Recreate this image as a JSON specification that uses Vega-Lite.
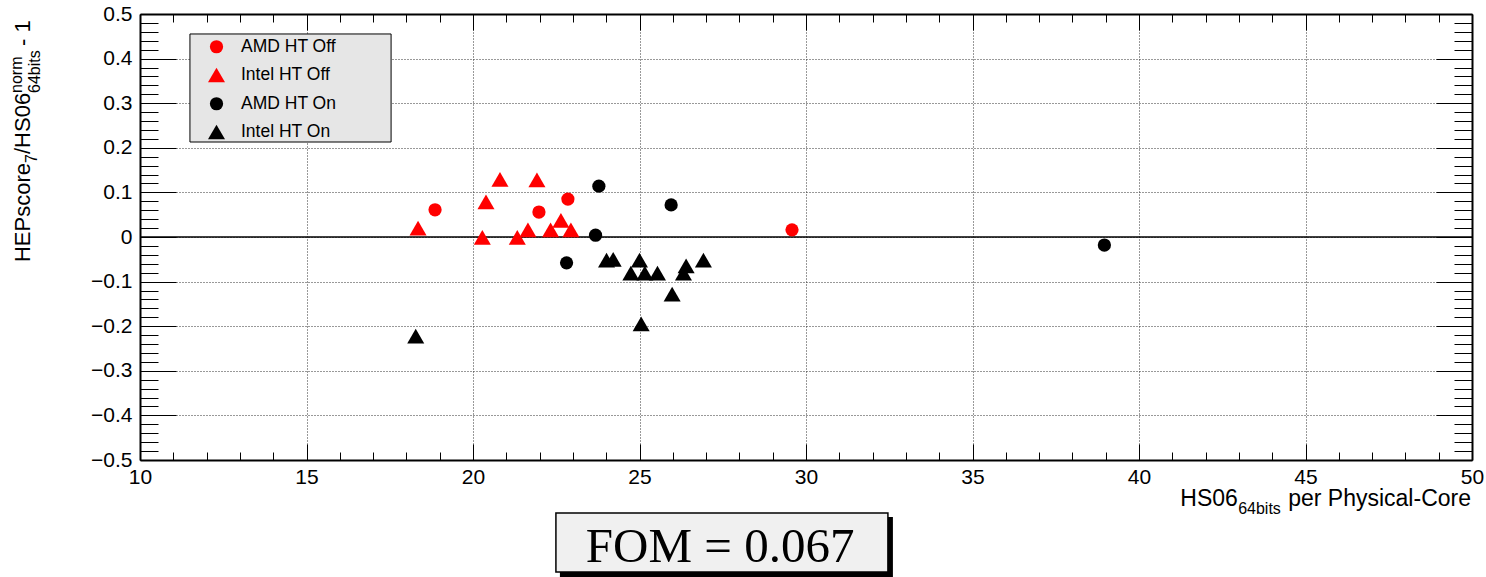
{
  "$schema": "https://vega.github.io/schema/vega-lite/v6.json",
  "width": 1332,
  "height": 446,
  "autosize": {"type": "none"},
  "padding": {"left": 140, "top": 14, "right": 14, "bottom": 117},
  "background": "white",
  "config": {"view": {"stroke": null}},
  "datasets": {
    "pts": [
      {"x": 18.86, "y": 0.061, "g": "AMD HT Off"},
      {"x": 21.98, "y": 0.056, "g": "AMD HT Off"},
      {"x": 22.85, "y": 0.085, "g": "AMD HT Off"},
      {"x": 29.58, "y": 0.016, "g": "AMD HT Off"},
      {"x": 18.35, "y": 0.020, "g": "Intel HT Off"},
      {"x": 20.39, "y": 0.079, "g": "Intel HT Off"},
      {"x": 20.81, "y": 0.129, "g": "Intel HT Off"},
      {"x": 21.92, "y": 0.128, "g": "Intel HT Off"},
      {"x": 20.28, "y": -0.001, "g": "Intel HT Off"},
      {"x": 21.33, "y": -0.001, "g": "Intel HT Off"},
      {"x": 21.65, "y": 0.016, "g": "Intel HT Off"},
      {"x": 22.33, "y": 0.016, "g": "Intel HT Off"},
      {"x": 22.64, "y": 0.037, "g": "Intel HT Off"},
      {"x": 22.94, "y": 0.016, "g": "Intel HT Off"},
      {"x": 23.78, "y": 0.114, "g": "AMD HT On"},
      {"x": 23.68, "y": 0.004, "g": "AMD HT On"},
      {"x": 22.81, "y": -0.058, "g": "AMD HT On"},
      {"x": 25.95, "y": 0.072, "g": "AMD HT On"},
      {"x": 38.96, "y": -0.018, "g": "AMD HT On"},
      {"x": 24.01, "y": -0.052, "g": "Intel HT On"},
      {"x": 24.21, "y": -0.050, "g": "Intel HT On"},
      {"x": 25.00, "y": -0.052, "g": "Intel HT On"},
      {"x": 24.74, "y": -0.081, "g": "Intel HT On"},
      {"x": 25.16, "y": -0.081, "g": "Intel HT On"},
      {"x": 25.54, "y": -0.081, "g": "Intel HT On"},
      {"x": 26.40, "y": -0.065, "g": "Intel HT On"},
      {"x": 26.32, "y": -0.081, "g": "Intel HT On"},
      {"x": 26.92, "y": -0.052, "g": "Intel HT On"},
      {"x": 25.98, "y": -0.128, "g": "Intel HT On"},
      {"x": 25.05, "y": -0.195, "g": "Intel HT On"},
      {"x": 18.28, "y": -0.222, "g": "Intel HT On"}
    ]
  },
  "layer": [
    {
      "data": {"values": [{}]},
      "mark": {"type": "rule", "color": "black", "strokeWidth": 1.5},
      "encoding": {
        "y": {"datum": 0, "type": "quantitative", "scale": {"domain": [-0.5, 0.5], "nice": false, "zero": false}, "axis": null}
      }
    },
    {
      "data": {"name": "pts"},
      "mark": {"type": "point", "filled": true, "opacity": 1, "strokeWidth": 0},
      "encoding": {
        "x": {
          "field": "x", "type": "quantitative",
          "scale": {"domain": [10, 50], "nice": false, "zero": false},
          "axis": {
            "orient": "bottom", "title": null,
            "values": [10,11,12,13,14,15,16,17,18,19,20,21,22,23,24,25,26,27,28,29,30,31,32,33,34,35,36,37,38,39,40,41,42,43,44,45,46,47,48,49,50],
            "labelExpr": "datum.value % 5 === 0 ? datum.label : ''",
            "labelFlush": false, "labelOverlap": false,
            "labelFont": "Liberation Sans", "labelFontSize": 21, "labelColor": "black",
            "labelPadding": 22,
            "tickSize": {"condition": {"test": "datum.value % 5 === 0", "value": -16}, "value": -8},
            "tickColor": "black", "tickWidth": 1,
            "grid": true, "gridColor": "#333", "gridDash": [1, 2], "gridWidth": 1,
            "gridOpacity": {"condition": {"test": "datum.value % 5 === 0 && datum.value > 10 && datum.value < 50", "value": 1}, "value": 0},
            "domain": true, "domainColor": "black", "domainWidth": 2
          }
        },
        "y": {
          "field": "y", "type": "quantitative",
          "scale": {"domain": [-0.5, 0.5], "nice": false, "zero": false},
          "axis": {
            "orient": "left", "title": null,
            "values": [-0.5,-0.48,-0.46,-0.44,-0.42,-0.4,-0.38,-0.36,-0.34,-0.32,-0.3,-0.28,-0.26,-0.24,-0.22,-0.2,-0.18,-0.16,-0.14,-0.12,-0.1,-0.08,-0.06,-0.04,-0.02,0,0.02,0.04,0.06,0.08,0.1,0.12,0.14,0.16,0.18,0.2,0.22,0.24,0.26,0.28,0.3,0.32,0.34,0.36,0.38,0.4,0.42,0.44,0.46,0.48,0.5],
            "labelExpr": "abs(datum.value*10 - round(datum.value*10)) < 0.001 ? format(datum.value, '.1~f') : ''",
            "labelFlush": false, "labelOverlap": false,
            "labelFont": "Liberation Sans", "labelFontSize": 21, "labelColor": "black",
            "labelPadding": 44,
            "tickSize": {"condition": {"test": "abs(datum.value*10 - round(datum.value*10)) < 0.001", "value": -36}, "value": -18},
            "tickColor": "black", "tickWidth": 1,
            "grid": true, "gridColor": "#333", "gridDash": [1, 2], "gridWidth": 1,
            "gridOpacity": {"condition": {"test": "abs(datum.value*10 - round(datum.value*10)) < 0.001 && abs(datum.value) < 0.49", "value": 1}, "value": 0},
            "domain": true, "domainColor": "black", "domainWidth": 2
          }
        },
        "color": {
          "field": "g", "type": "nominal", "title": null,
          "scale": {"domain": ["AMD HT Off", "Intel HT Off", "AMD HT On", "Intel HT On"], "range": ["#ff0000", "#ff0000", "#000000", "#000000"]},
          "legend": {
            "orient": "none", "legendX": 50, "legendY": 20, "padding": 4, "rowPadding": 10,
            "labelFont": "Liberation Sans", "labelFontSize": 17.5, "labelColor": "black",
            "symbolOffset": 13.5, "labelOffset": 15.5, "symbolStrokeWidth": 0, "symbolOpacity": 1
          }
        },
        "shape": {
          "field": "g", "type": "nominal", "title": null,
          "scale": {"domain": ["AMD HT Off", "Intel HT Off", "AMD HT On", "Intel HT On"], "range": ["circle", "triangle-up", "circle", "triangle-up"]}
        },
        "size": {
          "field": "g", "type": "nominal", "title": null,
          "scale": {"type": "ordinal", "domain": ["AMD HT Off", "Intel HT Off", "AMD HT On", "Intel HT On"], "range": [175, 290, 175, 290]}
        }
      }
    },
    {
      "data": {"values": [{}]},
      "mark": {"type": "rect", "fill": "#e6e6e6", "stroke": "black", "strokeWidth": 1},
      "encoding": {
        "x": {"datum": 11.50, "type": "quantitative", "scale": {"domain": [10, 50], "nice": false, "zero": false}, "axis": null},
        "x2": {"datum": 17.54},
        "y": {"datum": 0.4552, "type": "quantitative", "scale": {"domain": [-0.5, 0.5], "nice": false, "zero": false}, "axis": null},
        "y2": {"datum": 0.2130}
      }
    },
    {
      "data": {"values": [{}]},
      "mark": {"type": "rect", "fill": "black"},
      "encoding": {
        "x": {
          "datum": 22.61, "type": "quantitative",
          "scale": {"domain": [10, 50], "nice": false, "zero": false},
          "axis": {
            "orient": "top", "title": null, "labels": false, "grid": false,
            "values": [10,11,12,13,14,15,16,17,18,19,20,21,22,23,24,25,26,27,28,29,30,31,32,33,34,35,36,37,38,39,40,41,42,43,44,45,46,47,48,49,50],
            "tickSize": {"condition": {"test": "datum.value % 5 === 0", "value": -16}, "value": -8},
            "tickColor": "black", "tickWidth": 1,
            "domain": true, "domainColor": "black", "domainWidth": 2
          }
        },
        "x2": {"datum": 32.61},
        "y": {
          "datum": -0.6278, "type": "quantitative",
          "scale": {"domain": [-0.5, 0.5], "nice": false, "zero": false},
          "axis": {
            "orient": "right", "title": null, "labels": false, "grid": false,
            "values": [-0.5,-0.48,-0.46,-0.44,-0.42,-0.4,-0.38,-0.36,-0.34,-0.32,-0.3,-0.28,-0.26,-0.24,-0.22,-0.2,-0.18,-0.16,-0.14,-0.12,-0.1,-0.08,-0.06,-0.04,-0.02,0,0.02,0.04,0.06,0.08,0.1,0.12,0.14,0.16,0.18,0.2,0.22,0.24,0.26,0.28,0.3,0.32,0.34,0.36,0.38,0.4,0.42,0.44,0.46,0.48,0.5],
            "tickSize": {"condition": {"test": "abs(datum.value*10 - round(datum.value*10)) < 0.001", "value": -36}, "value": -18},
            "tickColor": "black", "tickWidth": 1,
            "domain": true, "domainColor": "black", "domainWidth": 2
          }
        },
        "y2": {"datum": -0.7623}
      }
    },
    {
      "data": {"values": [{}]},
      "mark": {"type": "rect", "fill": "#f0f0f0", "stroke": "black", "strokeWidth": 1.5},
      "encoding": {
        "x": {"datum": 22.49, "type": "quantitative", "scale": {"domain": [10, 50], "nice": false, "zero": false}, "axis": null},
        "x2": {"datum": 32.46},
        "y": {"datum": -0.6188, "type": "quantitative", "scale": {"domain": [-0.5, 0.5], "nice": false, "zero": false}, "axis": null},
        "y2": {"datum": -0.7511}
      }
    },
    {
      "data": {"values": [{}]},
      "mark": {"type": "text", "text": "FOM = 0.067", "font": "Liberation Serif", "fontSize": 49, "align": "center", "baseline": "alphabetic", "color": "black"},
      "encoding": {
        "x": {"datum": 27.42, "type": "quantitative", "scale": {"domain": [10, 50], "nice": false, "zero": false}, "axis": null},
        "y": {"datum": -0.7287, "type": "quantitative", "scale": {"domain": [-0.5, 0.5], "nice": false, "zero": false}, "axis": null}
      }
    },
    {
      "data": {"values": [{}]},
      "mark": {"type": "text", "text": "HS06", "font": "Liberation Sans", "fontSize": 23, "align": "right", "baseline": "alphabetic", "color": "black"},
      "encoding": {
        "x": {"datum": 42.97, "type": "quantitative", "scale": {"domain": [10, 50], "nice": false, "zero": false}, "axis": null},
        "y": {"datum": -0.6031, "type": "quantitative", "scale": {"domain": [-0.5, 0.5], "nice": false, "zero": false}, "axis": null}
      }
    },
    {
      "data": {"values": [{}]},
      "mark": {"type": "text", "text": "64bits", "font": "Liberation Sans", "fontSize": 16, "align": "right", "baseline": "alphabetic", "color": "black"},
      "encoding": {
        "x": {"datum": 44.26, "type": "quantitative", "scale": {"domain": [10, 50], "nice": false, "zero": false}, "axis": null},
        "y": {"datum": -0.6210, "type": "quantitative", "scale": {"domain": [-0.5, 0.5], "nice": false, "zero": false}, "axis": null}
      }
    },
    {
      "data": {"values": [{}]},
      "mark": {"type": "text", "text": "per Physical-Core", "font": "Liberation Sans", "fontSize": 23, "align": "right", "baseline": "alphabetic", "color": "black"},
      "encoding": {
        "x": {"datum": 49.97, "type": "quantitative", "scale": {"domain": [10, 50], "nice": false, "zero": false}, "axis": null},
        "y": {"datum": -0.6031, "type": "quantitative", "scale": {"domain": [-0.5, 0.5], "nice": false, "zero": false}, "axis": null}
      }
    },
    {
      "data": {"values": [{}]},
      "mark": {"type": "text", "text": "HEPscore", "font": "Liberation Sans", "fontSize": 22, "angle": 270, "align": "left", "baseline": "alphabetic", "color": "black"},
      "encoding": {
        "x": {"datum": 6.697, "type": "quantitative", "scale": {"domain": [10, 50], "nice": false, "zero": false}, "axis": null},
        "y": {"datum": -0.0561, "type": "quantitative", "scale": {"domain": [-0.5, 0.5], "nice": false, "zero": false}, "axis": null}
      }
    },
    {
      "data": {"values": [{}]},
      "mark": {"type": "text", "text": "7", "font": "Liberation Sans", "fontSize": 16, "angle": 270, "align": "left", "baseline": "alphabetic", "color": "black"},
      "encoding": {
        "x": {"datum": 6.907, "type": "quantitative", "scale": {"domain": [10, 50], "nice": false, "zero": false}, "axis": null},
        "y": {"datum": 0.1659, "type": "quantitative", "scale": {"domain": [-0.5, 0.5], "nice": false, "zero": false}, "axis": null}
      }
    },
    {
      "data": {"values": [{}]},
      "mark": {"type": "text", "text": "/HS06", "font": "Liberation Sans", "fontSize": 22, "angle": 270, "align": "left", "baseline": "alphabetic", "color": "black"},
      "encoding": {
        "x": {"datum": 6.697, "type": "quantitative", "scale": {"domain": [10, 50], "nice": false, "zero": false}, "axis": null},
        "y": {"datum": 0.1861, "type": "quantitative", "scale": {"domain": [-0.5, 0.5], "nice": false, "zero": false}, "axis": null}
      }
    },
    {
      "data": {"values": [{}]},
      "mark": {"type": "text", "text": "norm", "font": "Liberation Sans", "fontSize": 16, "angle": 270, "align": "left", "baseline": "alphabetic", "color": "black"},
      "encoding": {
        "x": {"datum": 6.456, "type": "quantitative", "scale": {"domain": [10, 50], "nice": false, "zero": false}, "axis": null},
        "y": {"datum": 0.3229, "type": "quantitative", "scale": {"domain": [-0.5, 0.5], "nice": false, "zero": false}, "axis": null}
      }
    },
    {
      "data": {"values": [{}]},
      "mark": {"type": "text", "text": "64bits", "font": "Liberation Sans", "fontSize": 16, "angle": 270, "align": "left", "baseline": "alphabetic", "color": "black"},
      "encoding": {
        "x": {"datum": 6.997, "type": "quantitative", "scale": {"domain": [10, 50], "nice": false, "zero": false}, "axis": null},
        "y": {"datum": 0.3229, "type": "quantitative", "scale": {"domain": [-0.5, 0.5], "nice": false, "zero": false}, "axis": null}
      }
    },
    {
      "data": {"values": [{}]},
      "mark": {"type": "text", "text": "- 1", "font": "Liberation Sans", "fontSize": 22, "angle": 270, "align": "left", "baseline": "alphabetic", "color": "black"},
      "encoding": {
        "x": {"datum": 6.697, "type": "quantitative", "scale": {"domain": [10, 50], "nice": false, "zero": false}, "axis": null},
        "y": {"datum": 0.4283, "type": "quantitative", "scale": {"domain": [-0.5, 0.5], "nice": false, "zero": false}, "axis": null}
      }
    }
  ],
  "resolve": {"axis": {"x": "independent", "y": "independent"}}
}
